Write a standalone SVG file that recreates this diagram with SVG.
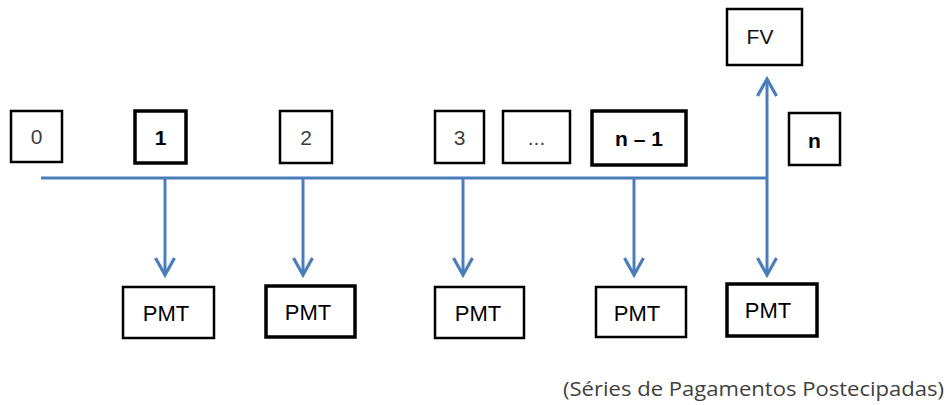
<svg xmlns="http://www.w3.org/2000/svg" width="952" height="405" viewBox="0 0 952 405">
  <style>
    .box { fill: #ffffff; stroke: #000000; stroke-width: 2.5; }
    .heavy { stroke-width: 3.5; }
    .lbl { font-family: "Liberation Sans", Arial, sans-serif; font-size: 21px; text-anchor: middle; dominant-baseline: central; }
    .light { fill: #3f3f3f; }
    .dark { fill: #000000; font-weight: bold; }
    .pmt { font-family: "Liberation Sans", Arial, sans-serif; font-size: 22px; fill: #000000; text-anchor: middle; dominant-baseline: central; }
    .flow { fill: none; stroke: #4a7ebb; stroke-width: 3; }
    .cap { font-family: "Open Sans", "Liberation Sans", sans-serif; font-size: 20px; fill: #3f3f3f; }
  </style>
  <defs>
    <marker id="open" viewBox="-20 -12 24 24" refX="0" refY="0" markerWidth="24" markerHeight="24" markerUnits="userSpaceOnUse" orient="auto">
      <path d="M -17 -9.5 L 0 0 L -17 9.5" fill="none" stroke="#4a7ebb" stroke-width="3.2" stroke-linejoin="miter"/>
    </marker>
  </defs>

  <!-- time line and cash flows -->
  <g id="connectors">
    <line class="flow" x1="41" y1="178" x2="767" y2="178"/>
    <line class="flow" x1="165" y1="178" x2="165" y2="275" marker-end="url(#open)"/>
    <line class="flow" x1="303" y1="178" x2="303" y2="275" marker-end="url(#open)"/>
    <line class="flow" x1="463" y1="178" x2="463" y2="275" marker-end="url(#open)"/>
    <line class="flow" x1="634" y1="178" x2="634" y2="275" marker-end="url(#open)"/>
    <line class="flow" x1="767" y1="178" x2="767" y2="275" marker-end="url(#open)"/>
    <line class="flow" x1="767" y1="178" x2="767" y2="79" marker-end="url(#open)"/>
  </g>

  <!-- period labels -->
  <g id="p0"><rect class="box" x="11" y="111" width="51" height="51"/><text class="lbl light" x="36.5" y="136.5">0</text></g>
  <g id="p1"><rect class="box heavy" x="135" y="111" width="51" height="52"/><text class="lbl dark" x="160.5" y="137">1</text></g>
  <g id="p2"><rect class="box" x="280" y="111" width="52" height="52"/><text class="lbl light" x="306" y="137">2</text></g>
  <g id="p3"><rect class="box" x="435" y="111" width="49" height="52"/><text class="lbl light" x="459.5" y="137">3</text></g>
  <g id="pdots"><rect class="box" x="503" y="111" width="67" height="52"/><text class="lbl light" x="536.5" y="137">...</text></g>
  <g id="pn1"><rect class="box heavy" x="592" y="111" width="94" height="54"/><text class="lbl dark" x="639" y="138">n – 1</text></g>
  <g id="pn"><rect class="box" x="789" y="113" width="51" height="52"/><text class="lbl dark" x="814.5" y="140">n</text></g>

  <!-- future value -->
  <g id="fv"><rect class="box" x="727" y="9" width="75" height="56"/><text class="lbl" x="760" y="36" style="fill:#111111">FV</text></g>

  <!-- payments -->
  <g id="pmt1"><rect class="box" x="123" y="287" width="91" height="51"/><text class="pmt" x="166" y="313">PMT</text></g>
  <g id="pmt2"><rect class="box heavy" x="266" y="286" width="89" height="51"/><text class="pmt" x="308" y="312">PMT</text></g>
  <g id="pmt3"><rect class="box" x="435" y="287" width="89" height="51"/><text class="pmt" x="478" y="313">PMT</text></g>
  <g id="pmt4"><rect class="box" x="596" y="287" width="90" height="50"/><text class="pmt" x="637" y="313">PMT</text></g>
  <g id="pmt5"><rect class="box heavy" x="727" y="284" width="90" height="52"/><text class="pmt" x="768" y="310">PMT</text></g>

  <text class="cap" x="563" y="396" textLength="381" lengthAdjust="spacingAndGlyphs">(Séries de Pagamentos Postecipadas)</text>
</svg>
